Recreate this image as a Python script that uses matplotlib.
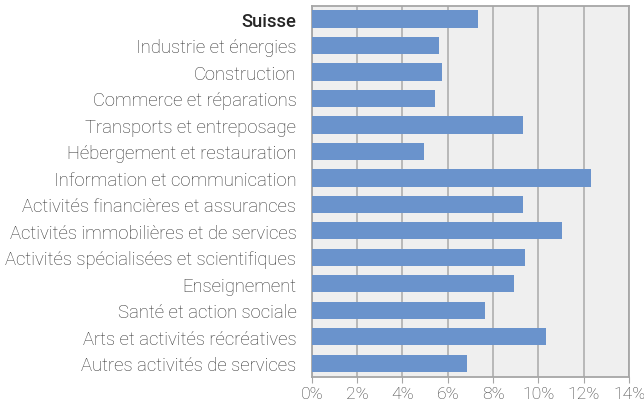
import matplotlib.pyplot as plt
import numpy as np

plt.rcParams['font.family'] = ['Roboto', 'DejaVu Sans']

categories = ['Suisse', 'Industrie et énergies', 'Construction', 'Commerce et réparations',
              'Transports et entreposage', 'Hébergement et restauration',
              'Information et communication', 'Activités financières et assurances',
              'Activités immobilières et de services', 'Activités spécialisées et scientifiques',
              'Enseignement', 'Santé et action sociale', 'Arts et activités récréatives',
              'Autres activités de services']
values = [7.32, 5.60, 5.73, 5.43, 9.31, 4.97, 12.32, 9.31, 11.03, 9.40, 8.91, 7.63, 10.32, 6.84]
xticks = [0, 2, 4, 6, 8, 10, 12, 14]

fig = plt.figure(figsize=(6.44, 4.06), dpi=100)
ax = fig.add_axes([0.484, 0.070, 0.493, 0.9135])
ax.set_facecolor('#efefef')

y = np.arange(len(categories))
ax.barh(y, values, height=0.65, color='#6a93cc', zorder=3)

ax.set_xlim(0, 14)
ax.set_ylim(len(categories) - 0.5, -0.5)
ax.set_xticks(xticks, [f'{t}%' for t in xticks])
ax.set_yticks(y, categories)
ax.grid(axis='x', color='#b4b4b4', linewidth=1.3, zorder=1)
ax.set_axisbelow(True)

for s in ax.spines.values():
    s.set_color('#a6a6a6')
    s.set_linewidth(1.3)

ax.tick_params(axis='y', length=0, pad=11, labelsize=13.3, labelcolor='#333333')
ax.tick_params(axis='x', length=4, color='#a6a6a6', pad=3, labelsize=12.6, labelcolor='#404040')
for lab in ax.get_yticklabels() + ax.get_xticklabels():
    lab.set_fontweight('light')
ax.get_yticklabels()[0].set_fontweight('medium')
ax.get_yticklabels()[0].set_color('#262626')

fig.savefig('out.png', dpi=100)
